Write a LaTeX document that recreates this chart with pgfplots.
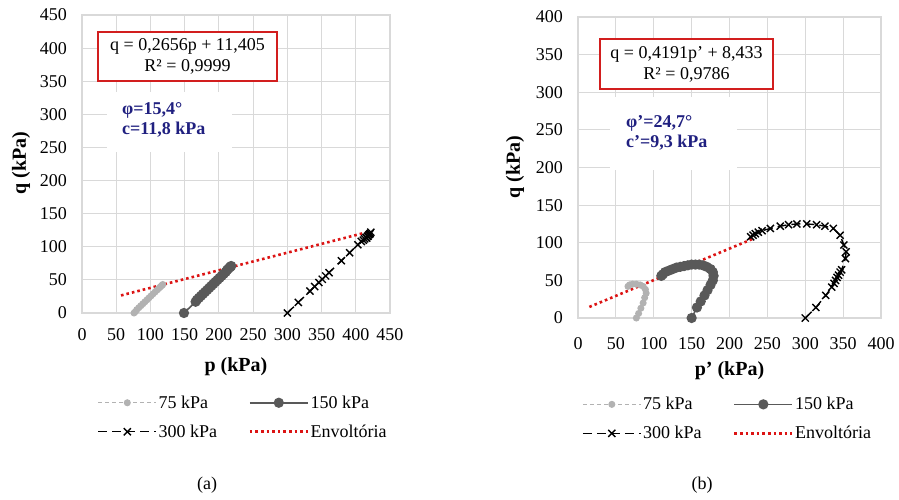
\documentclass[border=0pt]{standalone}
\usepackage{pgfplots}
\pgfplotsset{compat=1.18}
\usepackage{fontspec}
\setmainfont{Liberation Serif}
\definecolor{gridgray}{RGB}{217,217,217}
\definecolor{lgray}{RGB}{178,178,178}
\definecolor{dgray}{RGB}{89,89,89}
\definecolor{envred}{RGB}{220,20,20}
\definecolor{boxred}{RGB}{210,30,30}
\definecolor{navytxt}{RGB}{32,32,128}
\newcommand{\fs}{\fontsize{18}{21}\selectfont}
\pgfplotsset{
  myaxis/.style={
    scale only axis,
    grid=major, grid style={gridgray, line width=1.2pt},
    axis line style={gridgray, line width=1.2pt},
    major tick length=0pt, tick style={draw=none},
    tick label style={font=\fs, text=black},
    /pgf/number format/assume math mode=true,
    yticklabel style={inner sep=0pt, anchor=east, xshift=-15pt},
    xticklabel style={inner sep=0pt, anchor=north},
    label style={font=\bfseries\fontsize{20}{23}\selectfont},
    legend columns=2,
    legend cell align=left,
    legend style={draw=none, fill=none, font=\fs, inner sep=0pt, row sep=12pt,
      nodes={inner sep=1.5pt},
      /tikz/every even column/.append style={column sep=30pt}},
    legend image code/.code={\draw[mark repeat=2,mark phase=2,##1] plot coordinates {(0pt,0pt) (29pt,0pt) (58pt,0pt)};},
  },
  s75/.style={color=lgray, line width=1pt, dash pattern=on 4pt off 3pt, mark=*, mark size=3pt, mark options={solid, fill=lgray, draw=lgray}},
  s150/.style={color=dgray, line width=1.6pt, solid, mark=*, mark size=4.3pt, mark options={solid, fill=dgray, draw=dgray}},
  s300/.style={color=black, line width=1.4pt, dash pattern=on 9pt off 5pt, mark=x, mark size=5pt, mark options={solid, line width=1.4pt}},
  senv/.style={color=envred, line width=2.6pt, dash pattern=on 2.6pt off 3pt, no marks},
}
\begin{document}
\begin{tikzpicture}
\useasboundingbox (0pt,0pt) rectangle (899pt,499pt);
% ---------------- (a) ----------------
\begin{axis}[myaxis, at={(82pt,186pt)}, anchor=south west,
  width=308pt, height=298pt,
  xmin=0, xmax=450, ymin=0, ymax=450,
  xtick={0,50,...,450}, ytick={0,50,...,450},
  xticklabel style={yshift=-15pt},
  xlabel={p (kPa)}, ylabel={q (kPa)},
  xlabel style={at={(axis description cs:0.5,-0.181)}, anchor=center},
  ylabel style={at={(axis description cs:-0.198,0.503)}, anchor=center},
  legend style={at={(axis description cs:0.05,-0.272)}, anchor=north west},
]
\addplot[s75] coordinates {(76,0) (78,2) (80,5) (83,8) (86,11) (89,14) (92,17) (95,20) (98,23) (101,26) (104,29) (107,32) (110,35) (112,37) (114,39) (116,41) (117,42) (118,43)};
\addlegendentry{75 kPa}
\addplot[s150] coordinates {(149,0) (166,17) (168,20) (171,23) (174,26) (177,29) (180,32) (183,35) (186,38) (189,41) (192,44) (195,47) (198,50) (201,53) (204,56) (207,59) (210,62) (212,65) (214,67) (216,69) (217,70) (218,71)};
\addlegendentry{150 kPa}
\addplot[s300] coordinates {(300,0) (316,16) (333,33) (340,40) (346,46) (351,51) (356,56) (361,61) (379,79) (391,91) (403,103) (408,108) (411,110) (413,112) (415,114) (417,116) (419,118) (421,120) (422,122) (420,119) (418,116) (416,113)};
\addlegendentry{300 kPa}
\addplot[senv] coordinates {(57,26.54) (420,122.96)};
\addlegendentry{Envoltória}
\end{axis}
% ---------------- (b) ----------------
\begin{axis}[myaxis, at={(578pt,181pt)}, anchor=south west,
  width=303pt, height=301pt,
  xmin=0, xmax=400, ymin=0, ymax=400,
  xtick={0,50,...,400}, ytick={0,50,...,400},
  xticklabel style={yshift=-19pt},
  xlabel={p' (kPa)}, ylabel={q (kPa)},
  xlabel style={at={(axis description cs:0.5,-0.176)}, anchor=center},
  ylabel style={at={(axis description cs:-0.208,0.502)}, anchor=center},
  legend style={at={(axis description cs:0.013,-0.258)}, anchor=north west},
]
\addplot[s75] coordinates {(77,0) (80,6) (83,13) (86,20) (88,27) (90,33) (89,38) (86,42) (82,44) (77,45) (72,45) (68,44) (66,42)};
\addlegendentry{75 kPa}
\addplot[s150] coordinates {(150,0) (157,14) (162,22) (167,30) (171,37) (175,44) (178,50) (179,56) (178,61) (175,65) (170,68) (165,70) (160,71) (155,71) (150,71) (145,70) (140,69) (135,68) (130,67) (125,65) (120,63) (115,61) (112,58) (110,56)};
\addlegendentry{150 kPa}
\addplot[s300] coordinates {(300,0) (314,14) (327,30) (335,41) (338,46) (340,50) (342,54) (344,57) (346,61) (348,64) (353,79) (354,88) (351,97) (346,110) (337,119) (326,122) (315,124) (302,125) (289,125) (278,124) (267,122) (254,119) (243,116) (238,114) (234,112) (231,110) (228,108)};
\addlegendentry{300 kPa}
\addplot[senv] coordinates {(15,14.72) (230,104.83)};
\addlegendentry{Envoltória}
\end{axis}
% ---------------- annotations ----------------
\node[draw=boxred, line width=1.3pt, fill=white, minimum width=179pt, minimum height=49pt, align=center, font=\fs, inner sep=0pt] at (187.5pt,442.5pt) {q = 0,2656p + 11,405\\R² = 0,9999};
\node[draw=boxred, line width=1.3pt, fill=white, minimum width=173pt, minimum height=50pt, align=center, font=\fs, inner sep=0pt] at (686.5pt,435pt) {q = 0,4191p' + 8,433\\R² = 0,9786};
\fill[white] (107pt,347pt) rectangle (232pt,407pt);
\node[anchor=west, align=left, inner sep=0pt, text=navytxt, font=\bfseries\fontsize{18}{20}\selectfont] at (122pt,379pt) {φ=15,4°\\c=11,8 kPa};
\fill[white] (610pt,329pt) rectangle (737pt,402pt);
\node[anchor=west, align=left, inner sep=0pt, text=navytxt, font=\bfseries\fontsize{18}{20}\selectfont] at (626pt,366pt) {φ'=24,7°\\c'=9,3 kPa};
\node[font=\fs] at (207pt,14pt) {(a)};
\node[font=\fs] at (702pt,14pt) {(b)};
\end{tikzpicture}
\end{document}
